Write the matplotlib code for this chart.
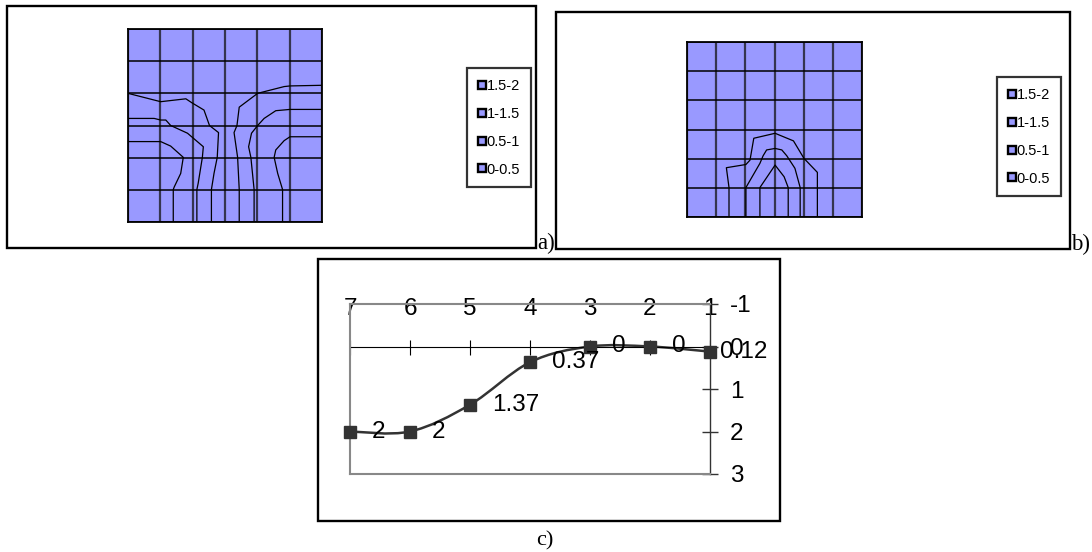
import numpy as np
import matplotlib.pyplot as plt
from matplotlib.patches import Rectangle, PathPatch
from matplotlib.path import Path
from matplotlib.lines import Line2D

# figure size in pixels
W, H = 1092, 552

# legend ranges shared by a) and b)
ranges = ["1.5-2", "1-1.5", "0.5-1", "0-0.5"]

# a) contour lines, grid units (x right, y down from top)
a_lines = [
    ([0, 1.01, 1.79, 1.97, 2.35, 2.46, 2.52, 2.80, 2.76, 2.66, 2.58, 2.58],
     [2.00, 2.26, 2.17, 2.29, 2.52, 2.83, 3.00, 3.22, 3.99, 4.49, 4.99, 6.00]),
    ([0, 0.81, 1.01, 1.17, 1.32, 1.84, 2.33, 2.30, 2.17, 2.13, 2.13],
     [2.78, 2.78, 2.83, 2.83, 3.00, 3.24, 3.66, 3.99, 4.80, 4.99, 6.00]),
    ([0, 1.01, 1.32, 1.71, 1.63, 1.43, 1.40, 1.40],
     [3.50, 3.50, 3.64, 3.99, 4.49, 4.91, 4.99, 6.00]),
    ([6.00, 5.01, 4.83, 4.01, 3.44, 3.37, 3.28, 3.39, 3.44, 3.44],
     [1.75, 1.77, 1.79, 2.00, 2.43, 3.00, 3.22, 3.99, 4.99, 6.00]),
    ([6.00, 5.01, 4.57, 4.21, 4.01, 3.82, 3.73, 3.80, 3.90, 3.90],
     [2.50, 2.50, 2.54, 2.78, 3.00, 3.24, 3.66, 3.99, 4.99, 6.00]),
    ([6.00, 5.01, 4.83, 4.57, 4.52, 4.63, 4.78, 4.78],
     [3.35, 3.35, 3.47, 3.76, 3.99, 4.49, 4.99, 6.00]),
]

# b) contour lines
b_lines = [
    ([1.44, 1.44, 1.35, 2.02, 2.16, 2.29, 3.02, 3.65, 4.01, 4.47, 4.47],
     [6.00, 4.99, 4.31, 4.20, 4.05, 3.30, 3.13, 3.39, 3.99, 4.47, 6.00]),
    ([2.02, 2.02, 2.50, 2.61, 2.73, 3.02, 3.25, 3.42, 3.70, 3.88, 3.88],
     [6.00, 4.99, 4.16, 3.90, 3.70, 3.65, 3.70, 3.90, 4.33, 4.99, 6.00]),
    ([2.50, 2.50, 3.02, 3.33, 3.47, 3.47],
     [6.00, 4.99, 4.22, 4.62, 4.99, 6.00]),
]

# c) profile
cats = [7, 6, 5, 4, 3, 2, 1]
depth = [2, 2, 1.37, 0.37, 0, 0, 0.12]
y_ticks = [-1, 0, 1, 2, 3]

BLUE = "#9999FF"
plt.rcParams["font.family"] = ["Liberation Sans", "DejaVu Sans"]


def box(x0, y0, x1, y1):
    return [x0 / W, 1 - y1 / H, (x1 - x0) / W, (y1 - y0) / H]


def frame(x0, y0, x1, y1):
    r = Rectangle((x0 / W, 1 - y1 / H), (x1 - x0) / W, (y1 - y0) / H,
                  transform=fig.transFigure, fill=False, ec="black", lw=1.7)
    fig.add_artist(r)


def surface(rect, lines, leg_xy):
    ax = fig.add_axes(box(*rect))
    ax.set_facecolor(BLUE)
    ax.set_xlim(0, 6)
    ax.set_ylim(6, 0)
    ax.set_xticks(range(7))
    ax.set_yticks(range(7))
    ax.tick_params(length=0, labelbottom=False, labelleft=False)
    ax.xaxis.grid(True, color="#35354f", lw=1.6)
    ax.yaxis.grid(True, color="black", lw=1.1)
    for s in ax.spines.values():
        s.set_color("black")
        s.set_linewidth(1.3)
    for xs, ys in lines:
        ax.plot(xs, ys, color="black", lw=0.9)
    handles = [Line2D([], [], ls="none", marker="s", ms=5.5, mfc=BLUE,
                      mec="black", mew=1.7) for _ in ranges]
    leg = fig.legend(handles, ranges, loc="upper left",
                     bbox_to_anchor=(leg_xy[0] / W, 1 - leg_xy[1] / H),
                     fontsize=10.5, frameon=True, fancybox=False,
                     edgecolor="black", labelspacing=0.95, handlelength=0.5,
                     handletextpad=0.1, borderpad=0.75, borderaxespad=0)
    leg.get_frame().set_linewidth(1.6)
    return ax


fig = plt.figure(figsize=(W / 100, H / 100), dpi=100)

# a)
frame(7, 6, 536, 248)
surface((128, 29, 322, 222), a_lines, (467, 68))
fig.text(537 / W, 1 - 249 / H, "a)", family="Liberation Serif", fontsize=16.5,
         ha="left", va="baseline")

# b)
frame(556, 12, 1070, 249)
surface((687, 42, 862, 217), b_lines, (997, 77))
fig.text(1071 / W, 1 - 250 / H, "b)", family="Liberation Serif", fontsize=16.5,
         ha="left", va="baseline")

# c)
frame(318, 259, 780, 521)
fig.text(545 / W, 1 - 545 / H, "c)", family="Liberation Serif", fontsize=16,
         ha="center", va="baseline")

ax = fig.add_axes(box(350, 304, 710, 474))
ax.set_xlim(7, 1)
ax.set_ylim(3, -1)
for k in ["top", "left", "bottom"]:
    ax.spines[k].set_color("#888888")
    ax.spines[k].set_linewidth(1.5)
ax.spines["right"].set_color("#333333")
ax.spines["right"].set_linewidth(1.0)

ax.set_xticks(cats)
ax.set_xticklabels([str(c) for c in cats])
ax.tick_params(axis="x", bottom=False, top=False, labelbottom=False,
               labeltop=True, labelsize=17.5, pad=-15)
ax.yaxis.tick_right()
ax.set_yticks(y_ticks)
ax.set_yticklabels([str(t) for t in y_ticks])
ax.tick_params(axis="y", direction="inout", length=11, width=1,
               color="#333333", labelsize=17.5, pad=9)

# category axis at depth 0
ax.axhline(0, color="black", lw=0.8)
ax.vlines(cats, -0.15, 0.2, color="black", lw=0.8)

# smoothed line (Excel-style bezier through the points)
pts = np.column_stack([cats, depth]).astype(float)
n = len(pts)
verts = [pts[0]]
codes = [Path.MOVETO]
for i in range(n - 1):
    p0 = pts[max(i - 1, 0)]
    p1 = pts[i]
    p2 = pts[i + 1]
    p3 = pts[min(i + 2, n - 1)]
    verts += [p1 + (p2 - p0) / 6, p2 - (p3 - p1) / 6, p2]
    codes += [Path.CURVE4] * 3
ax.add_patch(PathPatch(Path(verts, codes), fill=False, ec="#333333", lw=1.8,
                       clip_on=False))
ax.plot(cats, depth, "s", ms=9, color="#333333", clip_on=False, zorder=3)

for c, d in zip(cats, depth):
    off = 7 if c == 1 else 16
    ax.annotate(f"{d:g}", (c, d), xytext=(off, 0), textcoords="offset points",
                ha="left", va="center", fontsize=17.5, annotation_clip=False)

fig.savefig("out.png", dpi=100)
